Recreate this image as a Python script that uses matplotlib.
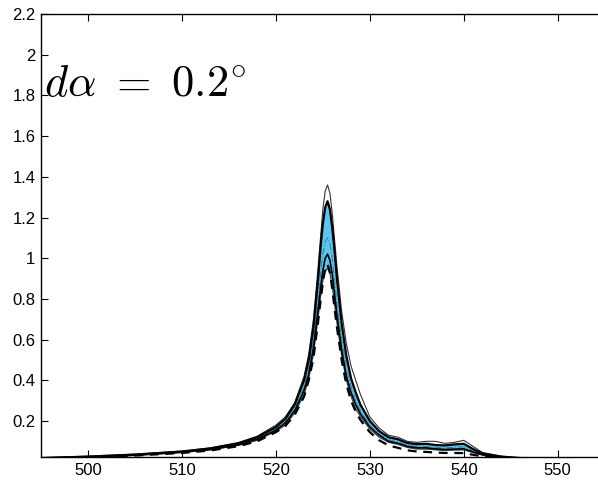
import matplotlib
matplotlib.use("Agg")
import matplotlib.pyplot as plt

# wavelength grid (nm) and the curves
wl = [495, 500, 505, 510, 513, 516, 518, 520, 521, 522, 523, 523.5, 524, 524.5,
      524.75, 525, 525.25, 525.5, 525.75, 526, 526.25, 526.5, 527, 527.5, 528,
      528.5, 529, 530, 531, 532, 533, 534, 535, 536, 537, 538, 539, 540, 541,
      542, 544, 546, 550, 555]

upper_max = [0.020, 0.027, 0.037, 0.052, 0.068, 0.094, 0.125, 0.18, 0.22, 0.29,
             0.42, 0.53, 0.70, 0.96, 1.10, 1.24, 1.33, 1.36, 1.32, 1.22, 1.09,
             0.96, 0.74, 0.58, 0.47, 0.40, 0.33, 0.22, 0.165, 0.13, 0.12, 0.10,
             0.095, 0.10, 0.10, 0.09, 0.095, 0.105, 0.075, 0.045, 0.027, 0.019,
             0.012, 0.010]

band_top = [0.018, 0.025, 0.035, 0.050, 0.065, 0.090, 0.12, 0.17, 0.21, 0.28,
            0.40, 0.50, 0.66, 0.90, 1.05, 1.17, 1.25, 1.28, 1.24, 1.15, 1.03,
            0.90, 0.68, 0.52, 0.41, 0.34, 0.28, 0.20, 0.15, 0.12, 0.11, 0.092,
            0.086, 0.088, 0.082, 0.080, 0.085, 0.088, 0.062, 0.040, 0.025,
            0.018, 0.012, 0.010]

band_bot = [0.016, 0.022, 0.031, 0.045, 0.058, 0.080, 0.105, 0.15, 0.18, 0.24,
            0.33, 0.41, 0.53, 0.71, 0.81, 0.89, 0.935, 0.95, 0.925, 0.86, 0.77,
            0.68, 0.52, 0.40, 0.32, 0.26, 0.22, 0.16, 0.12, 0.095, 0.085, 0.070,
            0.062, 0.062, 0.058, 0.055, 0.057, 0.058, 0.045, 0.032, 0.021,
            0.016, 0.011, 0.009]

lower_solid = [0.017, 0.023, 0.032, 0.047, 0.060, 0.083, 0.11, 0.155, 0.19, 0.25,
               0.35, 0.43, 0.56, 0.75, 0.85, 0.94, 1.00, 1.02, 0.99, 0.92, 0.82,
               0.72, 0.55, 0.42, 0.34, 0.28, 0.235, 0.17, 0.13, 0.10, 0.09,
               0.075, 0.068, 0.068, 0.063, 0.060, 0.062, 0.063, 0.048, 0.034,
               0.022, 0.016, 0.011, 0.009]

lower_dash = [0.015, 0.021, 0.030, 0.043, 0.055, 0.076, 0.10, 0.145, 0.175, 0.23,
              0.32, 0.40, 0.51, 0.69, 0.79, 0.88, 0.95, 0.97, 0.93, 0.85, 0.75,
              0.66, 0.50, 0.38, 0.30, 0.245, 0.205, 0.145, 0.105, 0.08, 0.068,
              0.056, 0.050, 0.048, 0.045, 0.043, 0.043, 0.042, 0.034, 0.026,
              0.018, 0.014, 0.010, 0.008]

mid_dashdot = [0.017, 0.024, 0.033, 0.048, 0.062, 0.085, 0.112, 0.16, 0.195, 0.26,
               0.37, 0.46, 0.60, 0.80, 0.92, 1.02, 1.08, 1.10, 1.07, 1.00, 0.89,
               0.78, 0.60, 0.46, 0.37, 0.30, 0.25, 0.18, 0.135, 0.107, 0.097,
               0.081, 0.074, 0.075, 0.070, 0.068, 0.071, 0.073, 0.053, 0.036,
               0.023, 0.017, 0.011, 0.009]

yticks = [0.2, 0.4, 0.6, 0.8, 1.0, 1.2, 1.4, 1.6, 1.8, 2.0, 2.2]
ylabels = ["0.2", "0.4", "0.6", "0.8", "1", "1.2", "1.4", "1.6", "1.8", "2", "2.2"]
xticks = [500, 510, 520, 530, 540, 550]

plt.rcParams["font.family"] = ["Liberation Sans", "DejaVu Sans"]
plt.rcParams["mathtext.fontset"] = "cm"

fig = plt.figure(figsize=(5.98, 4.83), dpi=100)
ax = fig.add_axes([0.0686, 0.0538, 0.9426, 0.9172])

ax.fill_between(wl, band_bot, band_top, color="#5cc6f0", lw=0, zorder=1)
ax.plot(wl, upper_max, color="#333333", lw=0.8, zorder=3)
ax.plot(wl, band_top, color="black", lw=1.6, zorder=4)
ax.plot(wl, mid_dashdot, color="#3a7fa0", lw=0.8, ls="-.", zorder=3)
ax.plot(wl, lower_solid, color="black", lw=1.2, zorder=4)
ax.plot(wl, band_bot, color="#444444", lw=0.8, zorder=3)
ax.plot(wl, lower_dash, color="black", lw=1.6, ls=(0, (4, 3)), zorder=5)

ax.set_xlim(495, 555)
ax.set_ylim(0.023, 2.2)
ax.set_xticks(xticks)
ax.set_yticks(yticks)
ax.set_yticklabels(ylabels)
ax.tick_params(direction="in", top=True, right=True, length=5, width=0.8,
               labelsize=12, pad=4)
for s in ax.spines.values():
    s.set_linewidth(1.0)

ax.text(495.3, 1.79, r"$d\alpha\ =\ 0.2^{\circ}$", fontsize=32, va="baseline",
        ha="left")

fig.savefig("out.png", dpi=100)
